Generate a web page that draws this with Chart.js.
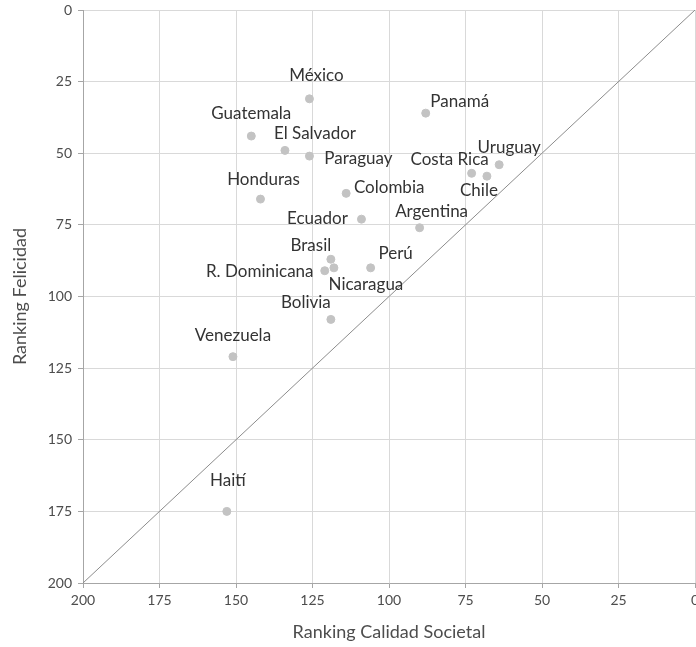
<!DOCTYPE html>
<html>
<head>
<meta charset="utf-8">
<script src="https://cdn.jsdelivr.net/npm/chart.js@4.4.1/dist/chart.umd.min.js"></script>
<style>
  html, body { margin: 0; padding: 0; background: #fff; overflow: hidden; }
  #wrap { width: 700px; height: 647px; }
</style>
</head>
<body>
<div id="wrap"><canvas id="scatterChart"></canvas></div>
<script>
// country, societal quality rank (x), happiness rank (y)
const countries = ['México', 'Panamá', 'Guatemala', 'El Salvador', 'Paraguay', 'Uruguay', 'Costa Rica', 'Chile',
    'Honduras', 'Colombia', 'Ecuador', 'Argentina', 'Brasil', 'Perú', 'R. Dominicana', 'Nicaragua', 'Bolivia',
    'Venezuela', 'Haití'];
const calidadSocietal = [126, 88, 145, 134, 126, 64, 73, 68, 142, 114, 109, 90, 119, 106, 121, 118, 119, 151, 153];
const felicidad = [31, 36, 44, 49, 51, 54, 57, 58, 66, 64, 73, 76, 87, 90, 91, 90, 108, 121, 175];
const axisTicks = [0, 25, 50, 75, 100, 125, 150, 175, 200];

// label offsets from each point, in pixels (text centre)
const labelOffsets = [[7, -23], [34, -12], [0, -23], [30, -17], [49, 2], [10, -17], [-22, -14], [-8, 14],
    [3, -20], [43, -6], [-44, -1], [12, -16], [-20, -14], [25, -14], [-65, 1], [32, 17], [-25, -17],
    [0, -21], [1, -31]];

const FONT = 'Lato, "Open Sans", sans-serif';

const pointLabels = {
    id: 'pointLabels',
    afterDatasetsDraw(chart) {
        const ctx = chart.ctx;
        const meta = chart.getDatasetMeta(1);
        ctx.save();
        ctx.font = '17px ' + FONT;
        ctx.fillStyle = '#333333';
        ctx.textAlign = 'center';
        ctx.textBaseline = 'middle';
        meta.data.forEach(function (pt, i) {
            const off = labelOffsets[i];
            ctx.fillText(countries[i], pt.x + off[0], pt.y + off[1]);
        });
        ctx.restore();
    }
};

document.addEventListener('DOMContentLoaded', function () {
    const ctx = document.getElementById('scatterChart').getContext('2d');

    new Chart(ctx, {
        type: 'scatter',
        data: {
            datasets: [{
                label: 'Diagonal',
                type: 'line',
                data: [{ x: 200, y: 200 }, { x: 0, y: 0 }],
                borderColor: '#8c8c8c',
                borderWidth: 1,
                pointRadius: 0,
                fill: false
            }, {
                label: 'Países',
                data: countries.map(function (c, i) { return { x: calidadSocietal[i], y: felicidad[i] }; }),
                backgroundColor: '#c3c3c3',
                borderColor: '#c3c3c3',
                pointRadius: 4,
                pointHoverRadius: 4
            }]
        },
        options: {
            responsive: true,
            maintainAspectRatio: false,
            animation: false,
            events: [],
            layout: { padding: { top: 10, right: 0, left: 9, bottom: 0 } },
            plugins: {
                legend: { display: false },
                tooltip: { enabled: false }
            },
            scales: {
                x: {
                    type: 'linear',
                    reverse: true,
                    min: 0,
                    max: 200,
                    afterBuildTicks: function (scale) {
                        scale.ticks = axisTicks.map(function (v) { return { value: v }; });
                    },
                    afterFit: function (scale) { scale.height = 64; },
                    ticks: {
                        color: '#4d4d4d',
                        font: { family: FONT, size: 14 },
                        padding: 4,
                        maxRotation: 0
                    },
                    grid: {
                        color: '#d9d9d9',
                        tickColor: '#a6a6a6',
                        tickLength: 5
                    },
                    border: { color: '#a6a6a6' },
                    title: {
                        display: true,
                        text: 'Ranking Calidad Societal',
                        color: '#4d4d4d',
                        font: { family: FONT, size: 18 },
                        padding: { top: 10 }
                    }
                },
                y: {
                    type: 'linear',
                    reverse: true,
                    min: 0,
                    max: 200,
                    afterBuildTicks: function (scale) {
                        scale.ticks = axisTicks.map(function (v) { return { value: v }; });
                    },
                    afterFit: function (scale) {
                        scale.width = 74;
                        scale.paddingTop = 0;
                        scale.paddingBottom = 0;
                    },
                    ticks: {
                        color: '#4d4d4d',
                        font: { family: FONT, size: 14 },
                        padding: 6
                    },
                    grid: {
                        color: '#d9d9d9',
                        tickColor: '#a6a6a6',
                        tickLength: 5
                    },
                    border: { color: '#a6a6a6' },
                    title: {
                        display: true,
                        text: 'Ranking Felicidad',
                        color: '#4d4d4d',
                        font: { family: FONT, size: 18 },
                        padding: { top: 0, bottom: 0 }
                    }
                }
            }
        },
        plugins: [pointLabels]
    });
});
</script>
</body>
</html>
